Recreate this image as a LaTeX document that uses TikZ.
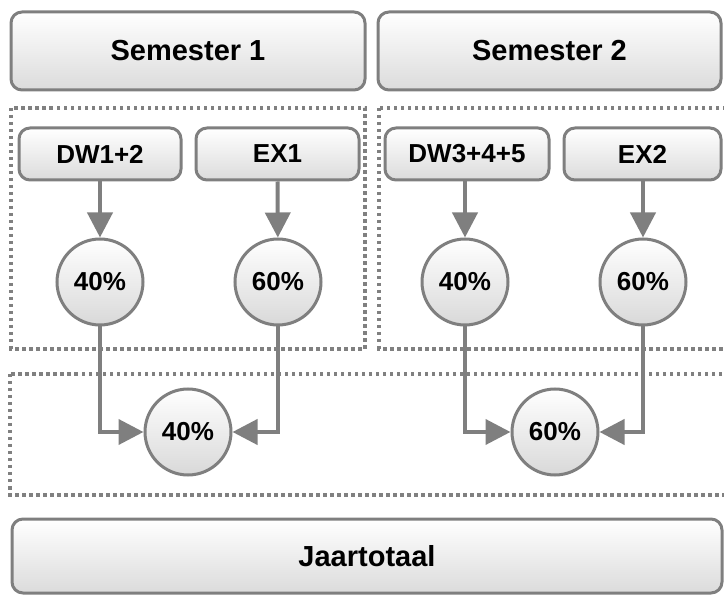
\documentclass[tikz,border=0pt]{standalone}
\usepackage{fontspec}
\setmainfont{Liberation Sans}
\usetikzlibrary{arrows.meta}
\definecolor{edgegray}{HTML}{7F7F7F}
\definecolor{dotgray}{HTML}{808080}
\begin{document}
\begin{tikzpicture}[x=1pt,y=-1pt,
  box/.style={draw=edgegray, line width=3pt, rounded corners=11pt,
    top color=white, bottom color=black!14, minimum height=52pt,
    inner sep=0pt, font=\fontsize{26}{30}\selectfont\bfseries, text=black},
  bigbox/.style={box, minimum height=78pt, font=\fontsize{29}{34}\selectfont\bfseries},
  pct/.style={circle, draw=edgegray, line width=3pt, minimum size=86pt,
    inner sep=0pt, top color=white, bottom color=black!15,
    font=\fontsize{26}{30}\selectfont\bfseries, text=black},
  group/.style={draw=dotgray, line width=3.5pt, dash pattern=on 3.5pt off 3.5pt},
  link/.style={draw=edgegray, line width=4pt,
    -{Triangle[length=25pt,width=25pt]}}
]
\useasboundingbox (0,0) rectangle (724,596);
% dotted groups
\draw[group] (11,108) rectangle (365,349);
\draw[group] (379,108) rectangle (728,349);
\draw[group] (10,374) rectangle (728,495);
% header boxes
\node[bigbox, minimum width=354pt] (sem1) at (188,51) {Semester 1};
\node[bigbox, minimum width=343pt] (sem2) at (549.5,51) {Semester 2};
\node[bigbox, minimum width=710pt, minimum height=74pt] (jaar) at (367,556) {Jaartotaal};
% source boxes
\node[box, minimum width=162pt] (dw12) at (100,154) {DW1+2};
\node[box, minimum width=163pt] (ex1) at (277.5,154) {EX1};
\node[box, minimum width=164pt] (dw345) at (467,154) {DW3+4+5};
\node[box, minimum width=157pt] (ex2) at (642.5,154) {EX2};
% percentage circles
\node[pct] (p1) at (100,282) {40\%};
\node[pct] (p2) at (278,282) {60\%};
\node[pct] (p3) at (465,282) {40\%};
\node[pct] (p4) at (643,282) {60\%};
\node[pct] (s1) at (188,432) {40\%};
\node[pct] (s2) at (555,432) {60\%};
% connectors
\draw[link] (dw12) -- (p1);
\draw[link] (ex1) -- (p2);
\draw[link] (dw345.south -| p3) -- (p3);
\draw[link] (ex2.south -| p4) -- (p4);
\draw[link] (p1.south) |- (s1.west);
\draw[link] (p2.south) |- (s1.east);
\draw[link] (p3.south) |- (s2.west);
\draw[link] (p4.south) |- (s2.east);
\end{tikzpicture}
\end{document}
